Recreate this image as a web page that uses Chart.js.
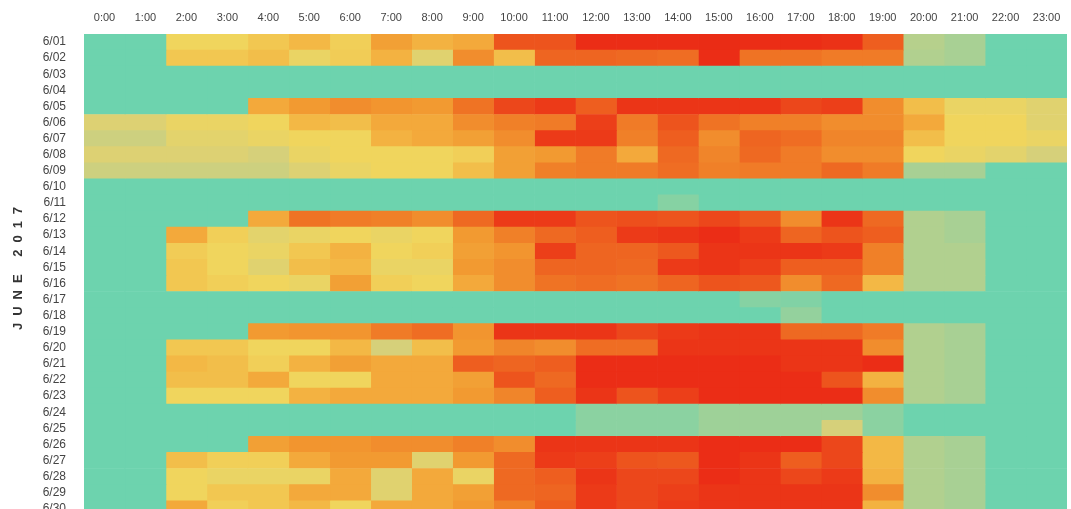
<!DOCTYPE html>
<html>
<head>
<meta charset="utf-8">
<script src="https://cdn.jsdelivr.net/npm/chart.js@4/dist/chart.umd.min.js"></script>
<style>
  html, body { margin: 0; padding: 0; background: #fff; overflow: hidden; }
  canvas { display: block; }
</style>
</head>
<body>
<canvas id="heatChart" width="1071" height="527"></canvas>
<script>
const hours = ["0:00", "1:00", "2:00", "3:00", "4:00", "5:00", "6:00", "7:00", "8:00", "9:00",
  "10:00", "11:00", "12:00", "13:00", "14:00", "15:00", "16:00", "17:00", "18:00", "19:00",
  "20:00", "21:00", "22:00", "23:00"];

const days = ["6/01", "6/02", "6/03", "6/04", "6/05", "6/06", "6/07", "6/08", "6/09", "6/10",
  "6/11", "6/12", "6/13", "6/14", "6/15", "6/16", "6/17", "6/18", "6/19", "6/20",
  "6/21", "6/22", "6/23", "6/24", "6/25", "6/26", "6/27", "6/28", "6/29", "6/30"];

// usage level per day, one value per hour (0 = idle, 100 = peak)
const usage = [
  [0, 0, 30, 30, 35, 40, 32, 48, 42, 45, 80, 80, 95, 95, 95, 97, 95, 95, 93, 75, 15, 12, 0, 0],   // 6/01
  [0, 0, 35, 35, 38, 28, 33, 42, 25, 55, 38, 72, 72, 70, 68, 95, 65, 65, 62, 62, 14, 12, 0, 0],   // 6/02
  [0, 0, 0, 0, 0, 0, 0, 0, 0, 0, 0, 0, 0, 0, 0, 0, 0, 0, 0, 0, 0, 0, 0, 0],                        // 6/03
  [0, 0, 0, 0, 0, 0, 0, 0, 0, 0, 0, 0, 0, 0, 0, 0, 0, 0, 0, 0, 0, 0, 0, 0],                        // 6/04
  [0, 0, 0, 0, 45, 50, 55, 52, 50, 65, 85, 90, 75, 92, 92, 92, 92, 85, 88, 55, 38, 28, 28, 25],   // 6/05
  [24, 24, 28, 28, 30, 40, 38, 45, 45, 55, 60, 62, 88, 62, 80, 65, 60, 60, 55, 55, 45, 30, 30, 25], // 6/06
  [20, 20, 26, 26, 28, 30, 30, 42, 45, 48, 55, 90, 90, 60, 75, 55, 72, 68, 58, 58, 38, 30, 30, 28], // 6/07
  [24, 24, 24, 24, 22, 28, 30, 30, 30, 32, 48, 50, 62, 45, 70, 58, 70, 62, 55, 55, 30, 28, 26, 22], // 6/08
  [20, 20, 20, 20, 20, 24, 28, 30, 30, 38, 48, 60, 62, 62, 68, 60, 62, 62, 70, 62, 12, 12, 0, 0],  // 6/09
  [0, 0, 0, 0, 0, 0, 0, 0, 0, 0, 0, 0, 0, 0, 0, 0, 0, 0, 0, 0, 0, 0, 0, 0],                        // 6/10
  [0, 0, 0, 0, 0, 0, 0, 0, 0, 0, 0, 0, 0, 0, 5, 0, 0, 0, 0, 0, 0, 0, 0, 0],                        // 6/11
  [0, 0, 0, 0, 45, 65, 62, 60, 55, 70, 90, 90, 80, 82, 80, 85, 78, 55, 92, 70, 14, 12, 0, 0],     // 6/12
  [0, 0, 45, 32, 26, 28, 30, 28, 30, 50, 60, 70, 75, 90, 92, 95, 90, 72, 80, 75, 14, 12, 0, 0],   // 6/13
  [0, 0, 33, 30, 28, 35, 42, 30, 32, 48, 52, 88, 72, 72, 78, 92, 92, 92, 90, 60, 14, 14, 0, 0],   // 6/14
  [0, 0, 35, 30, 25, 38, 40, 28, 28, 50, 55, 72, 72, 70, 90, 92, 88, 75, 75, 60, 14, 14, 0, 0],   // 6/15
  [0, 0, 35, 32, 30, 28, 48, 32, 30, 45, 55, 65, 68, 65, 72, 80, 78, 55, 70, 40, 14, 14, 0, 0],   // 6/16
  [0, 0, 0, 0, 0, 0, 0, 0, 0, 0, 0, 0, 0, 0, 0, 0, 5, 4, 0, 0, 0, 0, 0, 0],                        // 6/17
  [0, 0, 0, 0, 0, 0, 0, 0, 0, 0, 0, 0, 0, 0, 0, 0, 0, 8, 0, 0, 0, 0, 0, 0],                        // 6/18
  [0, 0, 0, 0, 50, 52, 52, 62, 68, 52, 92, 92, 92, 85, 90, 92, 92, 70, 70, 62, 14, 12, 0, 0],     // 6/19
  [0, 0, 35, 35, 30, 30, 40, 22, 38, 50, 58, 55, 68, 68, 92, 92, 92, 92, 92, 55, 14, 12, 0, 0],   // 6/20
  [0, 0, 40, 38, 32, 42, 48, 45, 45, 75, 72, 75, 95, 95, 95, 95, 95, 92, 92, 95, 14, 12, 0, 0],   // 6/21
  [0, 0, 38, 38, 45, 30, 30, 45, 45, 48, 80, 70, 95, 95, 95, 95, 95, 95, 80, 42, 14, 12, 0, 0],   // 6/22
  [0, 0, 30, 30, 30, 42, 45, 45, 45, 50, 58, 75, 92, 80, 88, 95, 95, 95, 95, 55, 14, 12, 0, 0],   // 6/23
  [0, 0, 0, 0, 0, 0, 0, 0, 0, 0, 0, 0, 6, 6, 6, 10, 10, 10, 10, 6, 0, 0, 0, 0],                    // 6/24
  [0, 0, 0, 0, 0, 0, 0, 0, 0, 0, 0, 0, 6, 6, 6, 10, 10, 10, 22, 6, 0, 0, 0, 0],                    // 6/25
  [0, 0, 0, 0, 48, 52, 52, 55, 55, 60, 55, 92, 92, 92, 92, 95, 95, 95, 85, 40, 14, 12, 0, 0],     // 6/26
  [0, 0, 38, 32, 32, 45, 50, 50, 25, 50, 70, 90, 88, 80, 78, 95, 92, 75, 85, 40, 14, 12, 0, 0],   // 6/27
  [0, 0, 30, 28, 28, 28, 45, 25, 45, 28, 70, 75, 92, 85, 85, 95, 92, 85, 90, 42, 14, 12, 0, 0],   // 6/28
  [0, 0, 30, 35, 35, 45, 45, 25, 45, 48, 70, 72, 90, 85, 88, 92, 92, 92, 92, 55, 14, 12, 0, 0],   // 6/29
  [0, 0, 45, 32, 35, 40, 30, 45, 45, 50, 60, 75, 90, 85, 90, 92, 92, 92, 92, 42, 14, 12, 0, 0]    // 6/30
];

// colour ramp: teal -> yellow -> orange -> red
const colorStops = [
  [0, [109, 211, 174]],
  [12, [168, 208, 148]],
  [22, [214, 208, 122]],
  [30, [240, 213, 93]],
  [40, [243, 184, 69]],
  [50, [242, 154, 49]],
  [65, [239, 115, 36]],
  [80, [237, 84, 29]],
  [95, [235, 45, 22]],
  [100, [232, 42, 20]]
];

function colorFor(v) {
  for (let i = 1; i < colorStops.length; i++) {
    const [v1, c1] = colorStops[i];
    const [v0, c0] = colorStops[i - 1];
    if (v <= v1) {
      const t = (v - v0) / (v1 - v0);
      const c = c0.map((x, k) => Math.round(x + (c1[k] - x) * t));
      return `rgb(${c[0]}, ${c[1]}, ${c[2]})`;
    }
  }
  const c = colorStops[colorStops.length - 1][1];
  return `rgb(${c[0]}, ${c[1]}, ${c[2]})`;
}

// one stacked segment per hour, coloured by that day's usage
const datasets = hours.map((h, i) => ({
  label: h,
  data: days.map(() => 1),
  backgroundColor: days.map((d, r) => colorFor(usage[r][i])),
  borderWidth: 0,
  barPercentage: 1,
  categoryPercentage: 1
}));

// rotated, letter-spaced axis title
const sideTitle = {
  id: "sideTitle",
  afterDraw(chart) {
    const ctx = chart.ctx;
    ctx.save();
    ctx.translate(18, 268);
    ctx.rotate(-Math.PI / 2);
    ctx.font = "bold 13px 'Liberation Sans', Arial, sans-serif";
    ctx.fillStyle = "#333";
    ctx.textAlign = "center";
    ctx.textBaseline = "middle";
    if ("letterSpacing" in ctx) ctx.letterSpacing = "7px";
    ctx.fillText("JUNE 2017", 3, 0);
    ctx.restore();
  }
};

const ctx = document.getElementById("heatChart").getContext("2d");
new Chart(ctx, {
  type: "bar",
  data: { labels: days, datasets: datasets },
  plugins: [sideTitle],
  options: {
    indexAxis: "y",
    responsive: false,
    animation: false,
    layout: { padding: { left: 0, right: 4, top: 0, bottom: 0 } },
    plugins: {
      legend: { display: false },
      tooltip: {
        callbacks: {
          label: (item) => `${item.dataset.label}: ${usage[item.dataIndex][item.datasetIndex]}`
        }
      }
    },
    scales: {
      x: {
        position: "top",
        stacked: true,
        min: 0,
        max: 24,
        grid: { display: false, drawTicks: false },
        border: { display: false },
        afterBuildTicks: (scale) => {
          scale.ticks = hours.map((h, i) => ({ value: i + 0.5 }));
        },
        afterFit: (scale) => { scale.height = 34; },
        ticks: {
          autoSkip: false,
          maxRotation: 0,
          padding: 9,
          color: "#444",
          font: { family: "'Liberation Sans', Arial, sans-serif", size: 11 },
          callback: (value, index) => hours[index]
        }
      },
      y: {
        stacked: true,
        grid: { display: false, drawTicks: true, tickLength: 15 },
        border: { display: false },
        afterFit: (scale) => { scale.width = 84; },
        ticks: {
          autoSkip: false,
          padding: 3,
          color: "#444",
          font: { family: "'Liberation Sans', Arial, sans-serif", size: 12 }
        }
      }
    }
  }
});
</script>
</body>
</html>
